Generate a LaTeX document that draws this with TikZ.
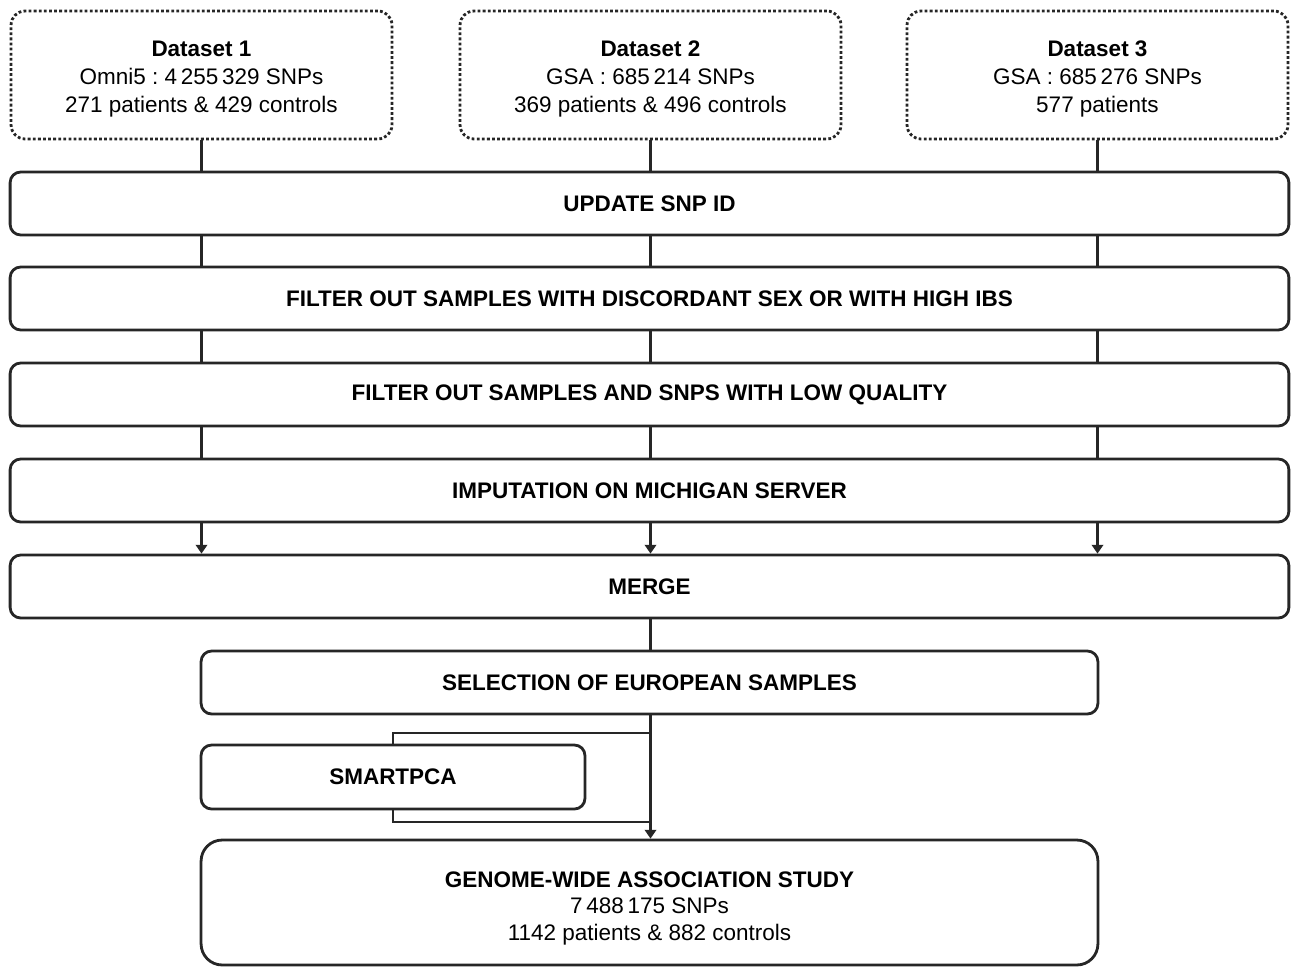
\documentclass[tikz,border=0pt]{standalone}
\usepackage{fontspec}
\setmainfont{Liberation Sans}
\usetikzlibrary{arrows.meta,positioning,calc}
\frenchspacing

\begin{document}
\begin{tikzpicture}[x=0.02cm, y=-0.02cm,
  ds/.style={draw=black!85, line width=1.6pt, dash pattern=on 1.6pt off 1.3pt, rounded corners=8pt,
    minimum width=7.62cm, minimum height=2.56cm, align=center, font=\fontsize{12.8}{15.9}\selectfont},
  stepbox/.style={draw=black!85, line width=1.6pt, rounded corners=6pt, minimum width=25.58cm,
    minimum height=1.26cm, font=\fontsize{12.8}{14}\selectfont\bfseries},
  ln/.style={draw=black!85, line width=1.6pt},
  ar/.style={ln, -{Triangle[width=6.5pt, length=5pt]}}
]
\useasboundingbox (0,0) rectangle (1291,967);
% input datasets
\node[ds] (ds1) at (201.5, 75) {\rule{0pt}{13pt}\textbf{Dataset 1}\\Omni5 : 4\,255\,329 SNPs\\271 patients \& 429 controls};
\node[ds] (ds2) at (650.5, 75) {\rule{0pt}{13pt}\textbf{Dataset 2}\\GSA : 685\,214 SNPs\\369 patients \& 496 controls};
\node[ds] (ds3) at (1097.5, 75) {\rule{0pt}{13pt}\textbf{Dataset 3}\\GSA : 685\,276 SNPs\\577 patients};
% processing steps
\node[stepbox] (upd)  at (649.5, 203.5) {UPDATE SNP ID};
\node[stepbox] (sex)  at (649.5, 298.5) {FILTER OUT SAMPLES WITH DISCORDANT SEX OR WITH HIGH IBS};
\node[stepbox] (qual) at (649.5, 394.5) {FILTER OUT SAMPLES AND SNPS WITH LOW QUALITY};
\node[stepbox] (imp)  at (649.5, 490.5) {IMPUTATION ON MICHIGAN SERVER};
\node[stepbox] (mrg)  at (649.5, 586.5) {MERGE};
\node[stepbox, minimum width=17.94cm] (eur) at (649.5, 682.5) {SELECTION OF EUROPEAN SAMPLES};
\node[stepbox, minimum width=7.68cm, minimum height=1.28cm] (pca) at (393, 777) {SMARTPCA};
\node[stepbox, minimum width=17.94cm, minimum height=2.5cm, rounded corners=12pt, align=center,
  font=\fontsize{12.8}{15}\selectfont] (gwas) at (649.5, 902.5)
  {\rule{0pt}{15.5pt}\textbf{GENOME-WIDE ASSOCIATION STUDY}\\7\,488\,175 SNPs\\1142 patients \& 882 controls};
% connectors
\foreach \d in {ds1, ds2, ds3} {
  \draw[ln] (\d.south) -- (\d.south |- upd.north);
  \draw[ln] (\d.south |- upd.south) -- (\d.south |- sex.north);
  \draw[ln] (\d.south |- sex.south) -- (\d.south |- qual.north);
  \draw[ln] (\d.south |- qual.south) -- (\d.south |- imp.north);
  \draw[ar] (\d.south |- imp.south) -- (\d.south |- mrg.north);
}
\draw[ln] (mrg.south -| ds2.south) -- (eur.north -| ds2.south);
\draw[ar] (eur.south -| ds2.south) -- (gwas.north -| ds2.south);
\coordinate (tap)  at (650, 733);
\coordinate (back) at (650, 822);
\draw[ln] (tap) -| (pca.north);
\draw[ln] (pca.south) |- (back);
\end{tikzpicture}
\end{document}
